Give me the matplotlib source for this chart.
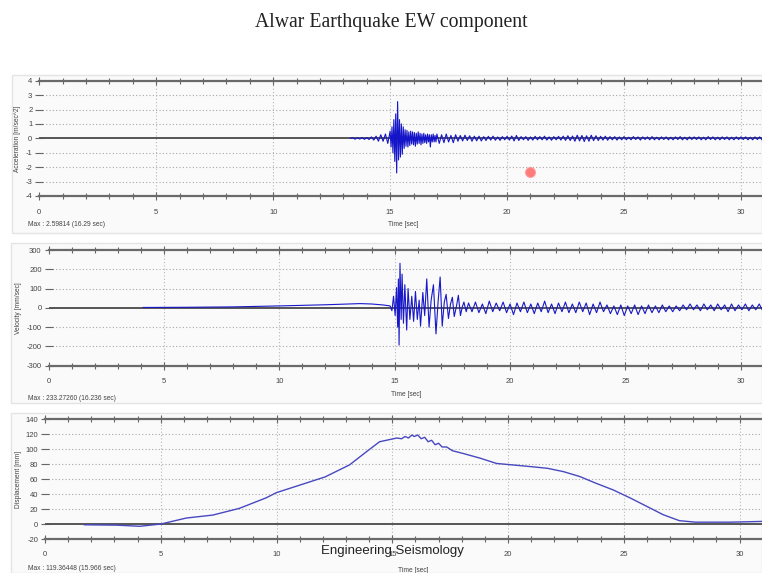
import numpy as np
import matplotlib
matplotlib.use("Agg")
import matplotlib.pyplot as plt
from matplotlib.patches import Rectangle
from matplotlib.ticker import MultipleLocator

# ---------------- data ----------------
title = "Alwar Earthquake EW component"
ylabels = ["Acceleration [m/sec^2]", "Velocity [mm/sec]", "Displacement [mm]"]
max_texts = ["Max : 2.59814 (16.29 sec)", "Max : 233.27260 (16.236 sec)",
             "Max : 119.36448 (15.966 sec)"]
xlabel = "Time [sec]"
watermark = "Engineering Seismology"
x_ticks = [0, 5, 10, 15, 20, 25, 30]
acc_yticks = [-4, -3, -2, -1, 0, 1, 2, 3, 4]
vel_yticks = [-300, -200, -100, 0, 100, 200, 300]
disp_yticks = [-20, 0, 20, 40, 60, 80, 100, 120, 140]

# acceleration: pre-event (start 13.3 s, step 0.1 s)
acc_pre_start, acc_pre_step = 13.3, 0.1
acc_pre = [0.0, 0.05, -0.06, 0.04, -0.05, 0.06, -0.07, 0.05, -0.08, 0.1,
           -0.12, 0.15, -0.2, 0.25, -0.2, 0.3, -0.35]
# acceleration: strong part (start 15.0 s, step 0.04 s)
acc_main_start, acc_main_step = 15.0, 0.04
acc_main = [0.5, -0.6, 0.8, -1.0, 1.3, -1.6, 1.7, -2.4, 2.55, -1.5,
            1.3, -1.3, 1.0, -1.1, 0.8, -0.7, 0.6, -0.55, 0.55, -0.6,
            0.45, -0.5, 0.5, -0.4, 0.45, -0.45, 0.4, -0.55, 0.35, -0.4,
            0.45, -0.35, 0.35, -0.45, 0.3, -0.35, 0.35, -0.3, 0.25, -0.35,
            0.3, -0.25, 0.25, -0.6, 0.25, -0.25, 0.3, -0.25, 0.2, -0.25]
# acceleration: coda (start 17.0 s, step 0.1 s)
acc_coda_start, acc_coda_step = 17.0, 0.1
acc_coda = [0.3, -0.35, 0.25, -0.3, 0.3, -0.25, 0.2, -0.3, 0.25, -0.2,
            0.2, -0.18, 0.22, -0.15, 0.18, -0.2, 0.15, -0.17, 0.15, -0.18,
            0.12, -0.15, 0.14, -0.12, 0.15, -0.13, 0.1, -0.14, 0.12, -0.1,
            0.14, -0.12, 0.16, -0.18, 0.2, -0.15, 0.12, -0.1, 0.12, -0.14,
            0.1, -0.12, 0.14, -0.1, 0.12, -0.1, 0.15, -0.12, 0.1, -0.13,
            0.12, -0.1, 0.14, -0.12, 0.15, -0.14, 0.18, -0.15, 0.16, -0.2,
            0.22, -0.18, 0.2, -0.22, 0.18, -0.2, 0.22, -0.16, 0.18, -0.15,
            0.14, -0.12, 0.15, -0.13, 0.12, -0.1, 0.12, -0.12, 0.1, -0.1,
            0.12, -0.1, 0.08, -0.1, 0.12, -0.08, 0.1, -0.12, 0.1, -0.08,
            0.1, -0.1, 0.12, -0.1, 0.08, -0.1, 0.1, -0.08, 0.1, -0.1,
            0.08, -0.1, 0.1, -0.08, 0.12, -0.1, 0.08, -0.1, 0.1, -0.08,
            0.1, -0.08, 0.1, -0.1, 0.08, -0.1, 0.12, -0.08, 0.1, -0.1,
            0.08, -0.1, 0.1, -0.08, 0.1, -0.1, 0.08, -0.1, 0.1, -0.08,
            0.1, -0.08, 0.1, -0.1, 0.08, -0.1, 0.1, -0.08, 0.1, -0.1]

# velocity: pre-event points
vel_pre_t = [4.1, 6.0, 8.0, 10.0, 12.0, 13.5, 14.0, 14.5, 14.8]
vel_pre_v = [2, 3, 5, 10, 16, 22, 20, 15, 10]
# velocity: strong part peaks
vel_main_t = [14.88, 14.95, 15.02, 15.08, 15.13, 15.16, 15.19, 15.23, 15.28, 15.32,
              15.38, 15.44, 15.52, 15.58, 15.66, 15.74, 15.82, 15.90, 15.98, 16.06,
              16.12, 16.22, 16.30, 16.39, 16.49, 16.58, 16.68, 16.79, 16.88, 16.97,
              17.06, 17.15, 17.23, 17.33, 17.42, 17.50, 17.58, 17.68, 17.76, 17.85,
              17.93, 18.00, 18.10]
vel_main_v = [-15, 60, -40, 105, -100, 150, -193, 231, -60, 175,
              -80, 120, -115, 100, -60, 60, -70, 85, -60, 40,
              -95, 80, -40, 150, -100, 40, 120, -135, 30, 160,
              -95, 30, 70, -55, 20, 55, -45, 10, 65, -40,
              5, 30, -20]
# velocity: coda (start 18.2 s, step 0.15 s)
vel_coda_start, vel_coda_step = 18.2, 0.15
vel_coda = [25, -20, 30, -25, 20, -30, 35, -20, 25, -15,
            30, -25, 20, -35, 25, -20, 30, -25, 20, -30,
            25, -20, 35, -25, 20, -30, 25, -20, 30, -25,
            20, -25, 30, -20, 25, -35, 20, -25, 30, -20,
            15, -30, 10, -35, 15, -40, 10, -30, 15, -35,
            10, -30, 15, -25, 10, -25, 15, -20, 10, -20,
            10, -15, 15, -10, 20, -10, 15, -15, 20, -10,
            15, -15, 20, -10, 15, -20, 20, -15, 15, -10,
            20, -15, 15, -10, 20, -15, 10]

# displacement
disp_t = [1.7, 3.1, 4.1, 5.0, 6.1, 7.25, 8.4, 9.55, 10.0, 11.0, 12.1, 13.15, 13.9,
          14.45, 14.9, 15.2, 15.4, 15.55, 15.7, 15.85, 15.95, 16.1, 16.25, 16.4,
          16.55, 16.7, 16.85, 17.0, 17.15, 17.35, 17.6, 18.1, 18.8, 19.5, 20.2,
          20.9, 21.7, 22.4, 23.1, 23.8, 24.55, 25.3, 26.0, 26.7, 27.4, 28.1, 29.0,
          29.6, 30.3, 30.95]
disp_v = [-1, -1.5, -3, 0, 8, 12, 21, 35, 42, 52, 63, 79, 97,
          110, 113, 115, 114, 117, 115, 119, 117, 119, 114, 116,
          110, 112, 106, 108, 103, 103, 98, 94, 88, 81, 79,
          77, 74.5, 70, 63.5, 54.5, 45.5, 34.5, 23.5, 12.5, 4.5, 2.5, 2.5,
          2.5, 3, 3.5]

cursor_t, cursor_v = 21.0, -2.34

# ---------------- build series ----------------
def seq(start, step, vals):
    return start + step * np.arange(len(vals))

acc_t = np.concatenate([seq(acc_pre_start, acc_pre_step, acc_pre),
                        seq(acc_main_start, acc_main_step, acc_main),
                        seq(acc_coda_start, acc_coda_step, acc_coda)])
acc_v = np.concatenate([acc_pre, acc_main, acc_coda])
vel_t = np.concatenate([vel_pre_t, vel_main_t, seq(vel_coda_start, vel_coda_step, vel_coda)])
vel_v = np.concatenate([vel_pre_v, vel_main_v, vel_coda])

# ---------------- figure ----------------
plt.rcParams["axes.unicode_minus"] = False
W, H = 762, 573
fig = plt.figure(figsize=(W / 100, H / 100), dpi=100)
fig.patch.set_facecolor("white")
plt.rcParams["font.family"] = ["Liberation Sans", "DejaVu Sans"]

def fx(px):
    return px / W

def fy(py):
    return 1 - py / H

# panel background boxes (pixel coords: x0, y_top, x1, y_bottom)
boxes = [(12, 75, 762, 233), (11, 243, 762, 403), (11, 413, 762, 573)]
for x0, yt, x1, yb in boxes:
    fig.patches.append(Rectangle((fx(x0), fy(yb)), fx(x1 - x0), (yb - yt) / H,
                                 transform=fig.transFigure, facecolor="#fafafa",
                                 edgecolor="#e4e4e4", lw=1.0, zorder=-5))

# axes geometry: left px, top px, bottom px, xmax
geo = [(39.3, 80.7, 196.0, 30.9), (48.6, 250.0, 365.7, 30.92), (45.0, 419.3, 539.0, 30.97)]
yticks_all = [acc_yticks, vel_yticks, disp_yticks]
texty = [(225, 224), (398, 395), (568, 570)]
xtext = [403, 406, 413]

axes = []
for i, (lp, tp, bp, xmax) in enumerate(geo):
    ax = fig.add_axes([fx(lp), fy(bp), 1 - fx(lp), (bp - tp) / H])
    ax.set_zorder(1)
    ax.patch.set_alpha(0.0)
    yt = yticks_all[i]
    ax.set_xlim(0, xmax)
    ax.set_ylim(yt[0], yt[-1])
    ax.set_yticks(yt)
    ax.set_xticks(x_ticks)
    ax.xaxis.set_minor_locator(MultipleLocator(1))
    for s in ["left", "right"]:
        ax.spines[s].set_visible(False)
    for s in ["top", "bottom"]:
        ax.spines[s].set_color("#6a6a6a")
        ax.spines[s].set_linewidth(1.6)
    ax.tick_params(axis="x", which="both", direction="inout", top=True, bottom=True,
                   color="#666666", width=0.8)
    ax.tick_params(axis="x", which="major", length=6, labelsize=5.5,
                   labelcolor="#444444", pad=6)
    ax.tick_params(axis="x", which="minor", length=4)
    ax.tick_params(axis="y", direction="inout", length=6, width=0.8, color="#666666",
                   labelsize=5.5, labelcolor="#444444", pad=2)
    for v in yt[1:-1]:
        if v != 0:
            ax.axhline(v, color="#a8a8a8", lw=0.8, ls=(0, (1, 2)), zorder=1)
    for xv in x_ticks[1:]:
        ax.axvline(xv, color="#b8b8b8", lw=0.8, ls=(0, (1, 2)), zorder=1)
    ax.axhline(0, color="#555555", lw=1.4, zorder=2)
    fig.text(fx(18), fy((tp + bp) / 2), ylabels[i], rotation=90, ha="center",
             va="center", fontsize=4.8, color="#444444", zorder=3)
    fig.text(fx(28), fy(texty[i][0]), max_texts[i], ha="left", va="center",
             fontsize=4.8, color="#444444", zorder=3)
    fig.text(fx(xtext[i]), fy(texty[i][1]), xlabel, ha="center", va="center",
             fontsize=4.8, color="#444444", zorder=3)
    axes.append(ax)

axes[0].plot(acc_t, acc_v, color="#1414c8", lw=0.8, zorder=3)
axes[0].plot([cursor_t], [cursor_v], "o", ms=7, color="#ff5050", alpha=0.75,
             markeredgecolor="#ff9090", zorder=4)
axes[1].plot(vel_t, vel_v, color="#1818c8", lw=0.8, zorder=3)
axes[2].plot(disp_t, disp_v, color="#4848c0", lw=1.0, zorder=3)

fig.text(fx(391), fy(22), title, ha="center", va="center", fontsize=14.2,
         family=["Liberation Serif", "DejaVu Serif"], color="#222222", zorder=3)
fig.text(fx(392), fy(551), watermark, ha="center", va="center", fontsize=9.5,
         family=["Liberation Sans Narrow", "Liberation Sans", "DejaVu Sans"],
         color="#222222", zorder=3)

fig.savefig("out.png", dpi=100)
